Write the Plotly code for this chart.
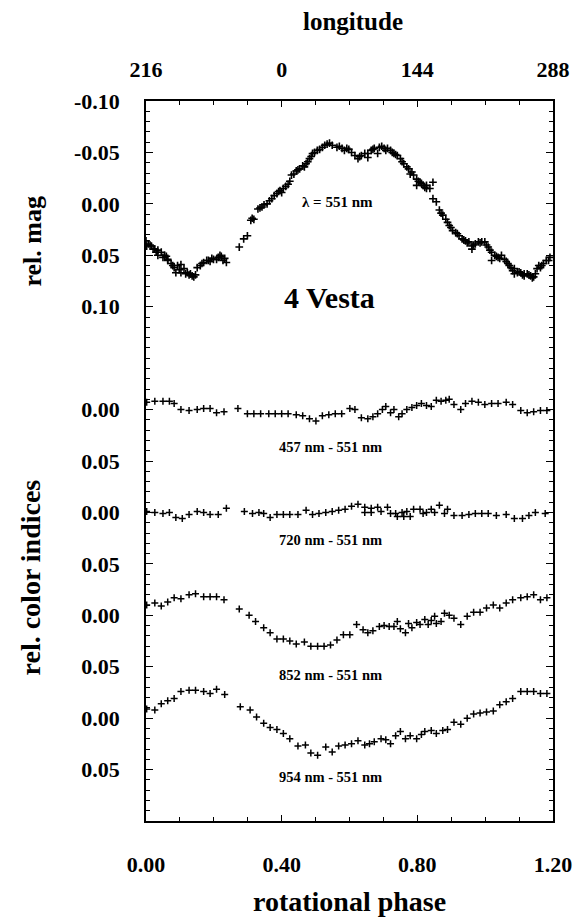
import plotly.graph_objects as go

# ---------------- data ----------------
# rel. magnitude at 551 nm vs rotational phase
MAG_PHASE = [
    0.000, 0.007, 0.016, 0.026, 0.035, 0.045, 0.055, 0.064, 0.074, 0.083, 0.093, 0.103, 0.112,
    0.122, 0.131, 0.141, 0.151, 0.160, 0.170, 0.179, 0.189, 0.199, 0.208, 0.218, 0.227, 0.237,
    0.002, 0.021, 0.035, 0.050, 0.064, 0.079, 0.088, 0.103, 0.117, 0.136,
    0.012, 0.030, 0.060, 0.098, 0.127, 0.146, 0.165, 0.184, 0.194, 0.213, 0.222, 0.232,
    0.275, 0.288, 0.299, 0.309, 0.318, 0.330, 0.342, 0.357, 0.371, 0.386, 0.395, 0.405, 0.419,
    0.429, 0.443, 0.453, 0.462, 0.472, 0.482, 0.491, 0.505, 0.520, 0.534, 0.549,
    0.313, 0.336, 0.348, 0.364, 0.378, 0.391, 0.400, 0.412, 0.424, 0.436, 0.448, 0.467, 0.477,
    0.487, 0.497, 0.512, 0.527, 0.541,
    0.563, 0.578, 0.592, 0.606, 0.616, 0.625, 0.635, 0.645, 0.654, 0.664, 0.673, 0.688, 0.702,
    0.712, 0.721, 0.731, 0.741, 0.750, 0.760, 0.769, 0.779, 0.789, 0.798, 0.808, 0.817, 0.827,
    0.837, 0.846, 0.846, 0.856, 0.865, 0.875, 0.884, 0.894, 0.904, 0.913, 0.923, 0.932, 0.942,
    0.952, 0.961, 0.971, 0.980, 0.990, 0.999, 1.009, 1.019, 1.028, 1.038, 1.048, 1.057, 1.067,
    1.076, 1.086, 1.095, 1.105, 1.115, 1.124, 1.134, 1.143, 1.153, 1.163, 1.172, 1.187, 1.191,
    0.654, 0.683, 0.798, 0.827, 0.961, 1.019, 1.086, 1.115,
    0.570, 0.585, 0.598, 0.630, 0.669, 0.695, 0.707, 0.726, 0.736, 0.755, 0.774, 0.784, 0.803,
    0.812, 0.822, 0.870, 0.889, 0.899, 0.918, 0.937, 0.947, 0.966, 0.985, 1.004, 1.014, 1.033,
    1.043, 1.062, 1.071, 1.081, 1.100, 1.110, 1.129, 1.139, 1.148, 1.158, 1.167, 1.180,
]
MAG_VALUE = [
    0.036, 0.039, 0.041, 0.044, 0.045, 0.047, 0.050, 0.054, 0.058, 0.062, 0.060, 0.059, 0.063,
    0.067, 0.068, 0.071, 0.062, 0.060, 0.057, 0.055, 0.056, 0.054, 0.054, 0.050, 0.055, 0.057,
    0.041, 0.044, 0.050, 0.052, 0.055, 0.060, 0.067, 0.067, 0.068, 0.070,
    0.040, 0.047, 0.051, 0.064, 0.069, 0.069, 0.058, 0.055, 0.053, 0.052, 0.051, 0.053,
    0.042, 0.034, 0.031, 0.016, 0.015, 0.005, 0.003, 0.000, -0.005, -0.010, -0.013, -0.015, -0.019,
    -0.028, -0.032, -0.034, -0.037, -0.039, -0.044, -0.049, -0.052, -0.055, -0.058, -0.057,
    0.014, 0.004, 0.001, -0.003, -0.008, -0.012, -0.011, -0.017, -0.022, -0.029, -0.033, -0.036, -0.041,
    -0.046, -0.050, -0.053, -0.057, -0.059,
    -0.055, -0.054, -0.054, -0.050, -0.047, -0.044, -0.047, -0.049, -0.049, -0.052, -0.054, -0.055, -0.054,
    -0.054, -0.052, -0.049, -0.047, -0.044, -0.039, -0.036, -0.029, -0.028, -0.024, -0.021, -0.018, -0.018,
    -0.015, -0.021, -0.005, -0.002, 0.006, 0.011, 0.015, 0.021, 0.026, 0.028, 0.031, 0.034, 0.036,
    0.037, 0.041, 0.039, 0.037, 0.037, 0.037, 0.042, 0.047, 0.050, 0.052, 0.050, 0.054, 0.058,
    0.062, 0.063, 0.067, 0.067, 0.068, 0.068, 0.070, 0.071, 0.063, 0.062, 0.058, 0.055, 0.052,
    -0.045, -0.049, -0.018, -0.015, 0.044, 0.055, 0.068, 0.070,
    -0.056, -0.052, -0.053, -0.046, -0.053, -0.056, -0.052, -0.050, -0.048, -0.041, -0.034, -0.031, -0.022,
    -0.020, -0.016, 0.009, 0.018, 0.023, 0.029, 0.035, 0.038, 0.040, 0.038, 0.040, 0.045, 0.051,
    0.053, 0.056, 0.060, 0.065, 0.066, 0.069, 0.069, 0.072, 0.068, 0.060, 0.060, 0.055,
]

# 457 nm - 551 nm colour index
C457_PHASE = [0.002, 0.026, 0.050, 0.069, 0.083, 0.103, 0.127, 0.151, 0.170, 0.189, 0.208, 0.230,
              0.271, 0.299, 0.318, 0.338, 0.362, 0.381, 0.400, 0.419, 0.443, 0.462, 0.482, 0.501,
              0.520, 0.539, 0.558, 0.577, 0.601, 0.616, 0.635, 0.654, 0.669, 0.683, 0.697, 0.707,
              0.721, 0.731, 0.745, 0.755, 0.769, 0.784, 0.798, 0.812, 0.827, 0.841, 0.856, 0.870,
              0.884, 0.894, 0.908, 0.928, 0.942, 0.961, 0.980, 0.999, 1.019, 1.038, 1.062, 1.081,
              1.105, 1.124, 1.143, 1.163, 1.182]
C457_VALUE = [-0.007, -0.008, -0.008, -0.008, -0.006, 0.000, 0.001, 0.000, -0.001, -0.001, 0.003, 0.002,
              -0.001, 0.004, 0.004, 0.004, 0.004, 0.004, 0.004, 0.004, 0.005, 0.006, 0.009, 0.011,
              0.006, 0.005, 0.004, 0.004, -0.001, 0.000, 0.008, 0.009, 0.007, 0.004, 0.000, -0.003,
              0.003, 0.000, 0.007, 0.004, 0.000, -0.002, -0.004, -0.006, -0.004, -0.003, -0.009, -0.008,
              -0.009, -0.010, -0.005, 0.000, -0.006, -0.008, -0.007, -0.005, -0.006, -0.006, -0.007, -0.005,
              0.001, 0.003, 0.002, 0.001, 0.001]

# 720 nm - 551 nm colour index
C720_PHASE = [0.002, 0.026, 0.050, 0.069, 0.088, 0.107, 0.127, 0.151, 0.170, 0.189, 0.213, 0.237,
              0.290, 0.314, 0.333, 0.347, 0.366, 0.386, 0.405, 0.424, 0.448, 0.472, 0.491, 0.510,
              0.530, 0.549, 0.568, 0.587, 0.606, 0.625, 0.645, 0.645, 0.664, 0.664, 0.683, 0.693,
              0.712, 0.721, 0.736, 0.741, 0.755, 0.760, 0.769, 0.779, 0.789, 0.808, 0.817, 0.827,
              0.841, 0.851, 0.865, 0.880, 0.889, 0.908, 0.932, 0.952, 0.971, 0.990, 1.009, 1.033,
              1.062, 1.086, 1.110, 1.129, 1.148, 1.177]
C720_VALUE = [-0.001, 0.000, 0.001, 0.000, 0.005, 0.006, 0.002, -0.001, 0.000, 0.002, 0.002, -0.004,
              -0.001, 0.001, 0.000, 0.001, 0.005, 0.002, 0.002, 0.002, 0.002, -0.002, 0.002, 0.001,
              0.000, -0.001, -0.002, -0.003, -0.006, -0.008, -0.005, 0.000, -0.004, 0.000, -0.005, -0.001,
              -0.005, 0.001, 0.001, 0.004, 0.000, 0.004, -0.001, 0.004, -0.003, -0.003, 0.001, 0.000,
              -0.003, 0.000, -0.007, 0.001, -0.003, 0.003, 0.003, 0.002, 0.001, 0.001, 0.001, 0.003,
              0.002, 0.006, 0.006, 0.003, 0.000, 0.001]

# 852 nm - 551 nm colour index
C852_PHASE = [0.002, 0.026, 0.045, 0.064, 0.083, 0.103, 0.127, 0.146, 0.170, 0.189, 0.208, 0.230,
              0.275, 0.304, 0.323, 0.347, 0.366, 0.386, 0.405, 0.424, 0.443, 0.467, 0.486, 0.506,
              0.525, 0.544, 0.563, 0.582, 0.601, 0.621, 0.640, 0.654, 0.669, 0.688, 0.702, 0.717,
              0.731, 0.741, 0.750, 0.765, 0.774, 0.784, 0.798, 0.808, 0.822, 0.832, 0.841, 0.851,
              0.856, 0.870, 0.880, 0.894, 0.908, 0.928, 0.947, 0.966, 0.985, 1.004, 1.024, 1.043,
              1.062, 1.081, 1.105, 1.124, 1.143, 1.163, 1.182]
C852_VALUE = [-0.010, -0.012, -0.009, -0.013, -0.017, -0.016, -0.020, -0.021, -0.018, -0.018, -0.018, -0.015,
              -0.006, 0.000, 0.006, 0.012, 0.017, 0.023, 0.023, 0.025, 0.028, 0.026, 0.030, 0.030,
              0.030, 0.029, 0.024, 0.019, 0.019, 0.009, 0.014, 0.017, 0.015, 0.011, 0.010, 0.011,
              0.011, 0.006, 0.013, 0.017, 0.008, 0.012, 0.007, 0.009, 0.004, 0.009, 0.005, 0.001,
              0.008, 0.006, -0.002, 0.000, 0.003, 0.009, 0.001, -0.003, -0.003, -0.007, -0.010, -0.007,
              -0.012, -0.015, -0.017, -0.018, -0.020, -0.015, -0.017]

# 954 nm - 551 nm colour index
C954_PHASE = [0.002, 0.026, 0.045, 0.064, 0.083, 0.103, 0.127, 0.146, 0.170, 0.189, 0.208, 0.232,
              0.278, 0.307, 0.326, 0.347, 0.366, 0.386, 0.405, 0.424, 0.448, 0.470, 0.486, 0.506,
              0.530, 0.549, 0.568, 0.587, 0.606, 0.625, 0.645, 0.659, 0.673, 0.693, 0.707, 0.721,
              0.736, 0.750, 0.765, 0.779, 0.798, 0.812, 0.822, 0.841, 0.856, 0.875, 0.889, 0.908,
              0.928, 0.947, 0.966, 0.985, 1.004, 1.024, 1.043, 1.062, 1.081, 1.105, 1.124, 1.143,
              1.163, 1.182]
C954_VALUE = [-0.009, -0.008, -0.014, -0.017, -0.019, -0.026, -0.027, -0.027, -0.026, -0.024, -0.028, -0.023,
              -0.011, -0.008, -0.001, 0.005, 0.009, 0.011, 0.015, 0.020, 0.027, 0.026, 0.034, 0.036,
              0.028, 0.033, 0.027, 0.026, 0.025, 0.022, 0.026, 0.025, 0.023, 0.020, 0.021, 0.025,
              0.017, 0.013, 0.020, 0.017, 0.020, 0.016, 0.013, 0.012, 0.015, 0.012, 0.011, 0.004,
              0.006, 0.000, -0.004, -0.005, -0.006, -0.007, -0.013, -0.016, -0.019, -0.026, -0.026, -0.026,
              -0.024, -0.024]

COLOR_LABELS = ["457 nm - 551 nm", "720 nm - 551 nm", "852 nm - 551 nm", "954 nm - 551 nm"]
PHASE_TICKS = [0.0, 0.4, 0.8, 1.2]
PHASE_TICK_LABELS = ["0.00", "0.40", "0.80", "1.20"]
LONGITUDE_TICK_LABELS = ["216", "0", "144", "288"]

# ---------------- layout constants ----------------
COLOR_OFFSETS = [0.20, 0.30, 0.40, 0.50]        # vertical stacking of the colour-index curves
LABEL_Y = [0.236, 0.327, 0.458, 0.557]          # label positions (stacked axis units)
FONT = "Liberation Serif"

marker_main = dict(symbol="cross-thin", size=5.5, color="black", line=dict(color="black", width=1.6))
marker_col = dict(symbol="cross-thin", size=5, color="black", line=dict(color="black", width=1.5))

fig = go.Figure()
fig.add_trace(go.Scatter(x=MAG_PHASE, y=MAG_VALUE, mode="markers", marker=marker_main,
                         showlegend=False, hoverinfo="skip"))
series = [(C457_PHASE, C457_VALUE), (C720_PHASE, C720_VALUE),
          (C852_PHASE, C852_VALUE), (C954_PHASE, C954_VALUE)]
for (ph, val), off in zip(series, COLOR_OFFSETS):
    fig.add_trace(go.Scatter(x=ph, y=[v + off for v in val], mode="markers", marker=marker_col,
                             showlegend=False, hoverinfo="skip"))
# invisible copy so the top (longitude) axis is drawn
fig.add_trace(go.Scatter(x=MAG_PHASE, y=MAG_VALUE, xaxis="x2", mode="markers",
                         marker=dict(opacity=0), showlegend=False, hoverinfo="skip"))

tickfont = dict(family=FONT, size=22, color="black", weight="bold")

ytickvals, yticktext = [], []
for v in [-0.10, -0.05, 0.0, 0.05, 0.10]:
    ytickvals.append(v)
    yticktext.append(f"{v:.2f}".replace("-0.00", "0.00"))
for off in COLOR_OFFSETS:
    ytickvals += [off, off + 0.05]
    yticktext += ["0.00", "0.05"]

fig.update_layout(
    width=584, height=922,
    margin=dict(l=146, r=22, t=101, b=101),
    paper_bgcolor="white", plot_bgcolor="white",
    xaxis=dict(range=[0, 1.2], tickmode="array", tickvals=PHASE_TICKS, ticktext=PHASE_TICK_LABELS,
               ticks="inside", ticklen=6, tickwidth=1.2, tickcolor="black",
               minor=dict(dtick=0.1, tick0=0, ticks="inside", ticklen=4, tickcolor="black"),
               showline=True, linecolor="black", linewidth=1.5, mirror=True,
               showgrid=False, zeroline=False, tickfont=tickfont, ticklabelstandoff=23,
               ticklabeloverflow="allow"),
    xaxis2=dict(range=[0, 1.2], overlaying="x", side="top", tickmode="array", tickvals=PHASE_TICKS,
                ticktext=LONGITUDE_TICK_LABELS, ticks="inside", ticklen=6, tickwidth=1.2,
                tickcolor="black",
                minor=dict(dtick=0.1, tick0=0, ticks="inside", ticklen=4, tickcolor="black"),
                showline=True, linecolor="black", linewidth=1.5,
                showgrid=False, zeroline=False, tickfont=tickfont, ticklabelstandoff=13,
                ticklabeloverflow="allow"),
    yaxis=dict(range=[0.60, -0.10], tickmode="array", tickvals=ytickvals, ticktext=yticktext,
               ticks="inside", ticklen=7, tickwidth=1.2, tickcolor="black",
               minor=dict(dtick=0.01, tick0=0, ticks="inside", ticklen=4, tickcolor="black"),
               showline=True, linecolor="black", linewidth=1.5, mirror="ticks",
               showgrid=False, zeroline=False, tickfont=tickfont, ticklabelstandoff=20),
)

ann_font = dict(family=FONT, size=14.5, color="black", weight="bold")
annotations = [
    dict(x=0.564, y=-0.002, xref="x", yref="y", text="λ = 551 nm", showarrow=False,
         font=dict(family=FONT, size=15, color="black", weight="bold")),
    dict(x=0.541, y=0.091, xref="x", yref="y", text="4 Vesta", showarrow=False,
         font=dict(family=FONT, size=30, color="black", weight="bold")),
]
for lab, ly in zip(COLOR_LABELS, LABEL_Y):
    annotations.append(dict(x=0.544, y=ly, xref="x", yref="y", text=lab,
                            showarrow=False, font=ann_font))


def tfont(size):
    return dict(family=FONT, size=size, color="black", weight="bold")


annotations += [
    dict(x=0.508, y=1.111, xref="paper", yref="paper", text="longitude", showarrow=False,
         font=tfont(25)),
    dict(x=0.499, y=-0.112, xref="paper", yref="paper", text="rotational phase", showarrow=False,
         font=tfont(28)),
    dict(x=-0.278, y=0.806, xref="paper", yref="paper", text="rel. mag", textangle=-90,
         showarrow=False, font=tfont(26)),
    dict(x=-0.283, y=0.338, xref="paper", yref="paper", text="rel. color indices", textangle=-90,
         showarrow=False, font=tfont(28)),
]
for a in annotations:
    a["xanchor"] = "center"
    a["yanchor"] = "middle"
fig.update_layout(annotations=annotations)

# remove the default 8 px page margin so the 584x922 figure fills the window exactly
fig.write_html("out.html", config={"displayModeBar": False},
               post_script="document.body.style.margin='0px';document.body.style.overflow='hidden';")
